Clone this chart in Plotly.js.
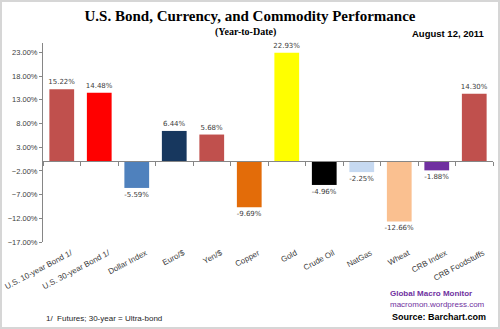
<!DOCTYPE html>
<html><head><meta charset="utf-8">
<script src="https://cdn.plot.ly/plotly-3.0.1.min.js"></script>
<style>body{margin:0;padding:0;background:#fff}#wrap{position:relative;width:500px;height:329px}
#frame{position:absolute;left:0;top:0;width:496px;height:325px;border:2px solid #d6d6d6;pointer-events:none}</style>
</head><body><div id="wrap"><div id="chart" style="width:500px;height:329px"></div><div id="frame"></div></div>
<script>
const categories = ["U.S. 10-year Bond 1/","U.S. 30-year Bond 1/","Dollar Index","Euro/$","Yen/$","Copper","Gold","Crude Oil","NatGas","Wheat","CRB Index","CRB Foodstuffs"];
const values = [15.22,14.48,-5.59,6.44,5.68,-9.69,22.93,-4.96,-2.25,-12.66,-1.88,14.30];
const colors = ["#C0504D","#FF0000","#4F81BD","#17375E","#C0504D","#E36C09","#FFFF00","#000000","#C6D9F1","#FAC090","#7030A0","#C0504D"];
const yMin = -17, yMax = 25, yStep = 5;

const traces = [
  {type:'bar', x:categories, y:values, marker:{color:colors}, width:0.66,
   texttemplate:'%{y:.2f}%', textposition:'outside', cliponaxis:false, constraintext:'none',
   textfont:{family:'DejaVu Sans', size:7, color:'#404040'}, hoverinfo:'skip'},
  {type:'scatter', x:categories, y:values, xaxis:'x2', mode:'markers', marker:{opacity:0}, hoverinfo:'skip', showlegend:false}
];
const layout = {
  width:500, height:329, showlegend:false, paper_bgcolor:'#fff', plot_bgcolor:'#fff',
  margin:{l:43, r:7, t:43, b:87},
  title:{text:'U.S. Bond, Currency, and Commodity Performance', font:{family:'Liberation Serif', size:15, color:'#000', weight:'bold'},
    x:0.5, xref:'container', xanchor:'center', y:1-16/329, yanchor:'middle'},
  xaxis:{type:'category', categoryarray:categories, range:[-0.5,11.5], showline:false, showgrid:false, zeroline:false,
    tickangle:-28, ticks:'', ticklabelstandoff:4, ticklabelshift:9,
    tickfont:{family:'Liberation Sans', size:8, color:'#404040'}},
  xaxis2:{type:'category', categoryarray:categories, range:[-0.5,11.5], overlaying:'x', anchor:'free',
    position:(0-yMin)/(yMax-yMin), side:'bottom', showline:true, linecolor:'#868686', linewidth:1,
    ticks:'outside', ticklen:4, tickcolor:'#868686', tickson:'boundaries', showticklabels:false, showgrid:false, zeroline:false},
  yaxis:{range:[yMin,yMax], tick0:yMin, dtick:yStep, tickformat:'.2f', ticksuffix:'%', showgrid:false, zeroline:false,
    showline:true, linecolor:'#868686', ticks:'outside', ticklen:3, tickcolor:'#868686',
    tickfont:{family:'Liberation Sans', size:7.5, color:'#404040'}},
  annotations:[
    {text:'<b>(Year-to-Date)</b>', xref:'paper', yref:'paper', x:(245-43)/450, y:(242-32)/199, xanchor:'center', yanchor:'middle', showarrow:false,
      font:{family:'Liberation Serif', size:10, color:'#000'}},
    {text:'<b>August 12, 2011</b>', xref:'paper', yref:'paper', x:(487-43)/450, xanchor:'right', y:(242-34)/199, yanchor:'middle', showarrow:false,
      font:{family:'Liberation Sans', size:9.5, color:'#000'}},
    {text:'1/  Futures; 30-year = Ultra-bond', xref:'paper', yref:'paper', x:(44-43)/450, xanchor:'left', y:(242-318)/199, yanchor:'middle', showarrow:false,
      font:{family:'Liberation Sans', size:8, color:'#262626'}},
    {text:'<b>Global Macro Monitor</b>', xref:'paper', yref:'paper', x:(431-43)/450, xanchor:'center', y:(242-293)/199, yanchor:'middle', showarrow:false,
      font:{family:'Liberation Sans', size:8, color:'#7030A0'}},
    {text:'macromon.wordpress.com', xref:'paper', yref:'paper', x:(437-43)/450, xanchor:'center', y:(242-304)/199, yanchor:'middle', showarrow:false,
      font:{family:'Liberation Sans', size:8, color:'#7030A0'}},
    {text:'<b>Source: Barchart.com</b>', xref:'paper', yref:'paper', x:(390-43)/450, xanchor:'left', y:(242-317)/199, yanchor:'middle', showarrow:false,
      font:{family:'Liberation Sans', size:9, color:'#000'}}
  ]
};
Plotly.newPlot('chart', traces, layout, {displayModeBar:false, staticPlot:true});
</script></body></html>
